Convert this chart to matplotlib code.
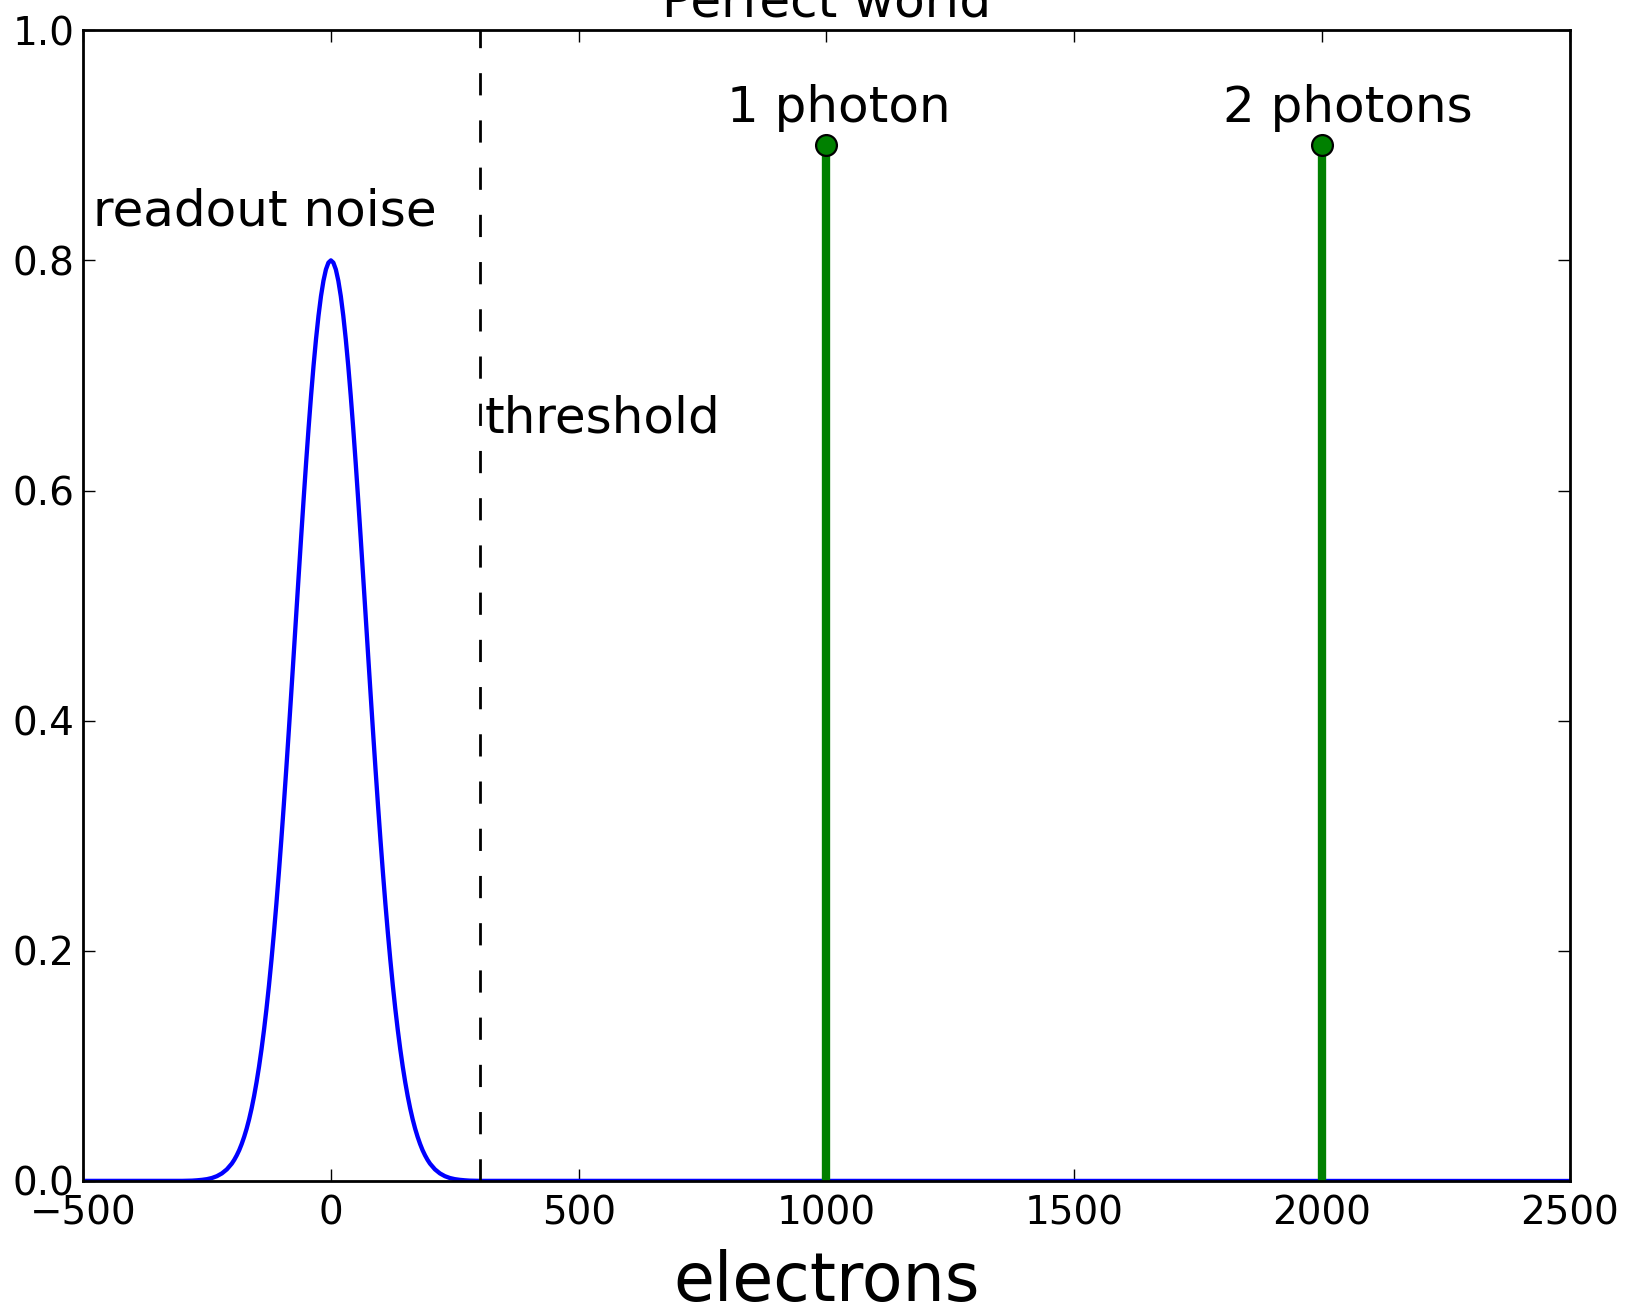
import numpy as np
import matplotlib
matplotlib.use("Agg")
import matplotlib.pyplot as plt

# readout noise profile, right half (electrons -> relative height); the profile is symmetric about 0
half_x = [0, 5, 10, 15, 20, 25, 30, 35, 40, 45, 50, 55, 60, 65, 70, 75, 80, 85, 90, 95,
          100, 105, 110, 115, 120, 125, 130, 135, 140, 145, 150, 155, 160, 165, 170, 175,
          180, 185, 190, 195, 200, 210, 220, 230, 240, 250, 260, 270, 280, 290, 300, 2500]
half_y = [0.8000, 0.7980, 0.7921, 0.7823, 0.7689, 0.7519, 0.7317, 0.7085, 0.6826, 0.6544,
          0.6243, 0.5926, 0.5598, 0.5261, 0.4921, 0.4579, 0.4240, 0.3907, 0.3582, 0.3269,
          0.2967, 0.2680, 0.2409, 0.2155, 0.1918, 0.1698, 0.1496, 0.1312, 0.1145, 0.0994,
          0.0859, 0.0738, 0.0631, 0.0537, 0.0455, 0.0384, 0.0322, 0.0268, 0.0223, 0.0184,
          0.0151, 0.0101, 0.0066, 0.0042, 0.0026, 0.0016, 0.0010, 0.0006, 0.0003, 0.0002,
          0.0001, 0.0]
noise_x = [-x for x in half_x[:0:-1]] + half_x
noise_y = half_y[:0:-1] + half_y

photon_x = [1000, 2000]
photon_y = [0.9, 0.9]
photon_labels = ["1 photon", "2 photons"]

threshold = 300

fig = plt.figure(figsize=(8.15, 6.54), dpi=200)
ax = fig.add_axes([0.0510, 0.0971, 0.9120, 0.8798])

ax.plot(noise_x, noise_y, color="b", lw=1.55)
ax.plot([threshold, threshold], [0, 1], color="k", lw=1.0, dashes=(8, 9))

for x, y, lab in zip(photon_x, photon_y, photon_labels):
    ax.plot([x, x], [0, y], color="g", lw=3.0)
    ax.plot(x, y, "o", color="g", ms=7.5, mec="k", mew=0.8)
    ax.text(x - 200, y + 0.02, lab, fontsize=18)

ax.text(-481, 0.83, "readout noise", fontsize=18)
ax.text(threshold + 10, 0.65, "threshold", fontsize=18)

ax.set_xlim(-500, 2500)
ax.set_ylim(0, 1)
ax.set_xticks(np.arange(-500, 2501, 500))
ax.set_yticks(np.arange(0, 1.01, 0.2))
ax.tick_params(direction="in", top=True, right=True, length=4.2, width=0.5,
               labelsize=14, pad=3)
ax.tick_params(axis="x", pad=4.8)
for s in ax.spines.values():
    s.set_linewidth(1.0)

ax.set_xlabel("electrons", fontsize=24, labelpad=6)
ax.set_title("Perfect world", fontsize=18, pad=5)

fig.savefig("out.png", dpi=200)
